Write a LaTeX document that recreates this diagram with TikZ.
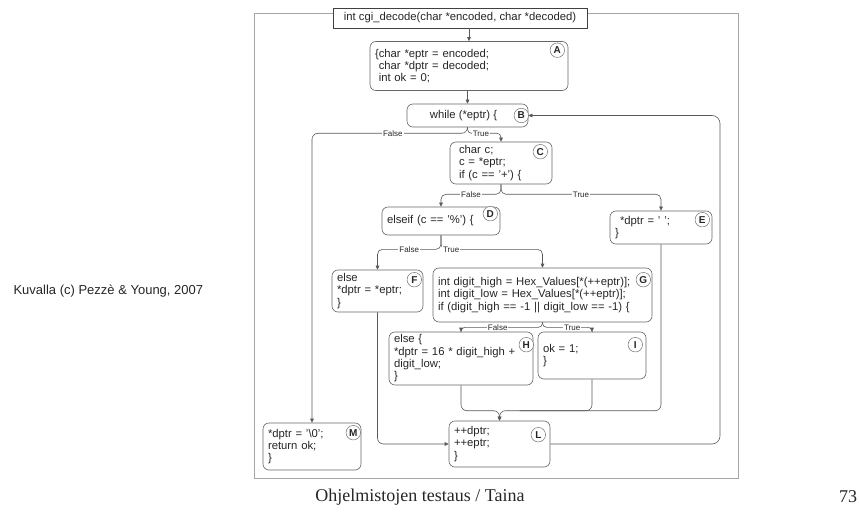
\documentclass[tikz,border=0pt]{standalone}
\usepackage{fontspec}
\setmainfont{Liberation Sans}
\newfontfamily\serifface{Liberation Serif}
\usetikzlibrary{calc,arrows.meta}
% straight single quote (avoid TeX curly-quote mapping)
\newcommand\sq{\char"0027\relax}
\begin{document}
\begin{tikzpicture}[x=1pt,y=-1pt,
  every node/.style={text=black!85},
  code/.style={font=\fontsize{11.3}{12.3}\selectfont},
  blk/.style={code, draw=black!60, line width=0.6pt, rounded corners=6pt,
    fill=white, align=left, inner xsep=5pt, inner ysep=0pt},
  hdr/.style={code, draw=black!75, line width=0.7pt, fill=white,
    minimum width=254pt, minimum height=20pt, inner sep=0pt},
  tag/.style={circle, draw=black!55, line width=0.5pt, fill=white,
    minimum size=14.5pt, inner sep=0pt,
    font=\fontsize{10}{10}\selectfont\bfseries},
  ln/.style={draw=black!65, line width=0.6pt},
  tip/.style={-{Triangle[length=4pt,width=3.6pt]}},
  brl/.style={font=\fontsize{8}{8}\selectfont, fill=white, inner sep=1pt},
  frame/.style={draw=black!35, line width=0.8pt}]

\useasboundingbox (0,0) rectangle (859,513);

% figure frame
\draw[frame] (254,13) rectangle (738,478);

% function header
\node[hdr] (hdr) at (460,18) {int cgi\_decode(char *encoded, char *decoded)};

% blocks
\node[blk, minimum width=198pt, minimum height=49pt, text width=188pt] (A) at (469,66)
  {\{char *eptr = encoded;\\\ char *dptr = decoded;\\\ int ok = 0;};
\node[blk, minimum width=121pt, minimum height=23pt, align=center] (B) at (467.5,115.5)
  {while (*eptr) \{\hspace{8pt}};
\node[blk, minimum width=102pt, minimum height=42pt, text width=90pt] (C) at (501,163)
  {\hspace{3pt}char c;\\\hspace{3pt}c = *eptr;\\\hspace{3pt}if (c == \sq+\sq) \{};
\node[blk, minimum width=118pt, minimum height=28pt, text width=108pt] (D) at (441,221)
  {elseif (c == \sq\%\sq) \{};
\node[blk, minimum width=102pt, minimum height=33pt, text width=92pt] (E) at (661,227.5)
  {\hspace{5pt}*dptr = \sq\ \sq;\\\}};
\node[blk, minimum width=91pt, minimum height=42pt, text width=81pt] (F) at (377.5,291)
  {else\\{}*dptr = *eptr;\\\}};
\node[blk, minimum width=219pt, minimum height=54pt, text width=209pt] (G) at (542.5,295)
  {int digit\_high = Hex\_Values[*(++eptr)];\\int digit\_low = Hex\_Values[*(++eptr)];\\if (digit\_high == -1 || digit\_low == -1) \{};
\node[blk, minimum width=144pt, minimum height=53pt, text width=134pt] (H) at (461,358.5)
  {else \{\\{}*dptr = 16 * digit\_high +\\digit\_low;\\\}};
\node[blk, minimum width=108pt, minimum height=47pt, text width=98pt] (I) at (592,355.5)
  {ok = 1;\\\}};
\node[blk, minimum width=101pt, minimum height=46pt, text width=91pt] (L) at (499.5,444)
  {++dptr;\\++eptr;\\\}};
\node[blk, minimum width=98pt, minimum height=47pt, text width=88pt] (M) at (312,446.5)
  {*dptr = \sq\textbackslash 0\sq;\\return ok;\\\}};

% circled block letters
\node[tag] (tA) at ($(A.north east)+(-11,9)$) {A};
\node[tag] (tB) at ($(B.east)+(-7,0)$) {B};
\node[tag] (tC) at ($(C.north east)+(-12,10)$) {C};
\node[tag] (tD) at ($(D.north east)+(-10,7)$) {D};
\node[tag] (tE) at ($(E.north east)+(-10,9)$) {E};
\node[tag] (tF) at ($(F.north east)+(-9,10)$) {F};
\node[tag] (tG) at ($(G.north east)+(-9,12)$) {G};
\node[tag] (tH) at ($(H.north east)+(-7,13)$) {H};
\node[tag] (tI) at ($(I.north east)+(-11,13)$) {I};
\node[tag] (tL) at ($(L.north east)+(-12,14)$) {L};
\node[tag] (tM) at ($(M.north east)+(-8,10)$) {M};

% straight flow
\draw[ln, tip] (A.north |- hdr.south) -- (A.north);
\draw[ln, tip] (B.north |- A.south) -- (B.north);

% branch points
\coordinate (bs) at ($(B.south)+(0,6)$);
\coordinate (cs) at ($(C.south)+(0,10)$);
\coordinate (ds) at ($(D.south)+(0,14)$);
\coordinate (gs) at ($(G.south)+(0,5)$);
\coordinate (mg) at ($(L.north)+(0,-10)$);
\coordinate (lp) at (720,0);

% while (*eptr)
\draw[ln, tip, rounded corners=6pt] (B.south) -- (bs) -- (bs -| M.north) -- (M.north);
\draw[ln, tip, rounded corners=4pt] (B.south) -- (bs) -- (bs -| C.north) -- (C.north);
\path (bs) -- (bs -| M.north) node[brl, pos=0.48] {False};
\path (bs) -- (bs -| C.north) node[brl, pos=0.4] {True};

% if (c == '+')
\draw[ln, tip, rounded corners=5pt] (C.south) -- (cs) -- (cs -| D.north) -- (D.north);
\draw[ln, tip, rounded corners=5pt] (C.south) -- (cs) -- (cs -| E.north) -- (E.north);
\path (cs) -- (cs -| D.north) node[brl, pos=0.5] {False};
\path (cs) -- (cs -| E.north) node[brl, pos=0.5] {True};

% elseif (c == '%')
\draw[ln, tip, rounded corners=5pt] (D.south) -- (ds) -- (ds -| F.north) -- (F.north);
\draw[ln, tip, rounded corners=5pt] (D.south) -- (ds) -- (ds -| G.north) -- (G.north);
\path (ds) -- (ds -| F.north) node[brl, pos=0.5] {False};
\path (ds) -- (ds -| G.north) node[brl, pos=0.1] {True};

% if (digit_high == -1 || digit_low == -1)
\draw[ln, tip, rounded corners=4pt] (G.south) -- (gs) -- (gs -| H.north) -- (H.north);
\draw[ln, tip, rounded corners=4pt] (G.south) -- (gs) -- (gs -| I.north) -- (I.north);
\path (gs) -- (gs -| H.north) node[brl, pos=0.55] {False};
\path (gs) -- (gs -| I.north) node[brl, pos=0.6] {True};

% joins into L
\draw[ln, tip, rounded corners=6pt] (H.south) -- (H.south |- mg) -- (mg) -- (L.north);
\draw[ln, tip, rounded corners=6pt] (E.south) -- (E.south |- mg) -- (mg) -- (L.north);
\draw[ln, rounded corners=6pt] (I.south) -- (I.south |- mg) -- ($(mg)+(20,0)$);
\draw[ln, tip, rounded corners=6pt] (F.south) -- (F.south |- L.west) -- (L.west);

% loop back to while
\draw[ln, tip, rounded corners=8pt] (L.east) -- (L.east -| lp) -- (B.east -| lp) -- (B.east);

% captions
\node[anchor=west, font=\fontsize{13}{15}\selectfont] (credit) at (10,291)
  {Kuvalla (c) Pezzè \& Young, 2007};
\node[font=\serifface\fontsize{18}{20}\selectfont] (foot) at (420,497)
  {Ohjelmistojen testaus / Taina};
\node[font=\serifface\fontsize{18}{20}\selectfont] (page) at (848,497) {73};
\end{tikzpicture}
\end{document}
